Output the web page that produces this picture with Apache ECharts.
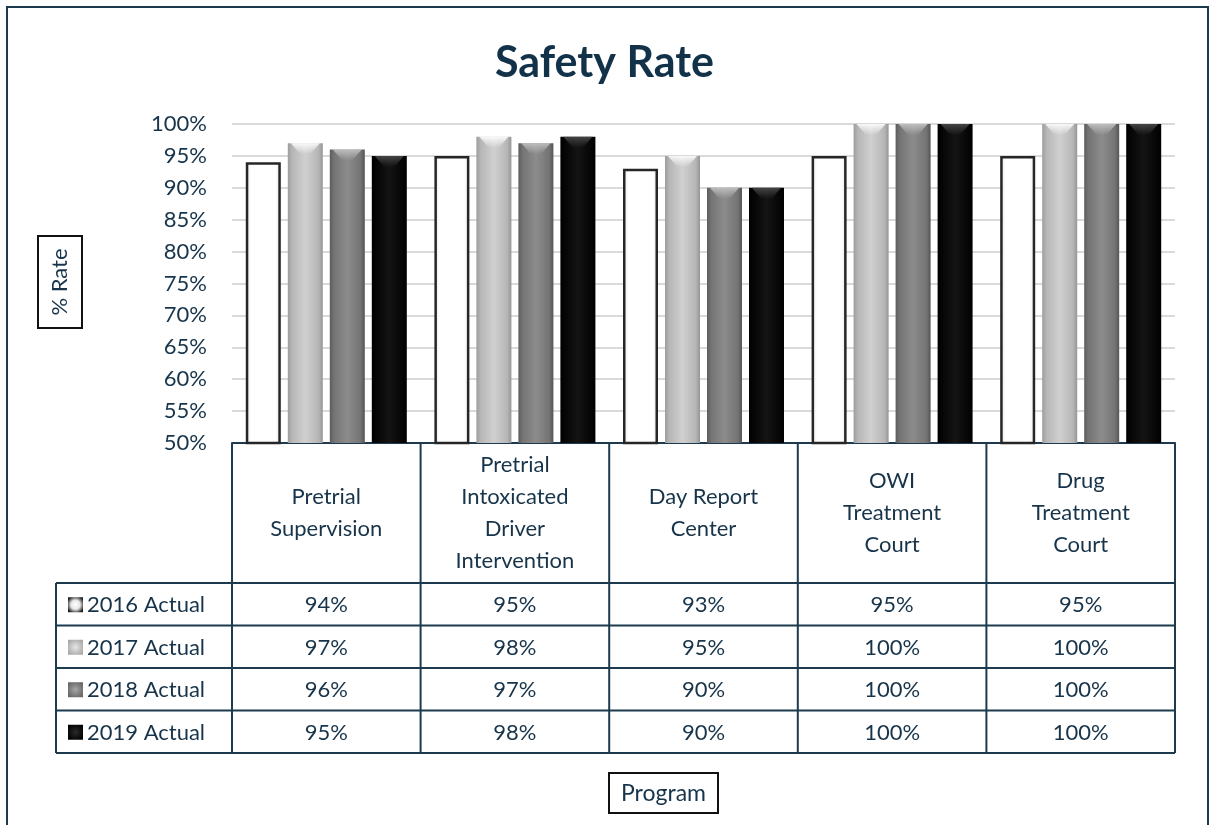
<!DOCTYPE html>
<html>
<head>
<meta charset="utf-8">
<title>Safety Rate</title>
<style>
  html, body { margin: 0; padding: 0; background: #ffffff; }
  #chart { width: 1209px; height: 825px; }
</style>
<script src="https://cdn.jsdelivr.net/npm/echarts@6/dist/echarts.min.js"></script>
</head>
<body>
<div id="chart"></div>
<script>
// ---- data ----
const programs = [
  'Pretrial\nSupervision',
  'Pretrial\nIntoxicated\nDriver\nIntervention',
  'Day Report\nCenter',
  'OWI\nTreatment\nCourt',
  'Drug\nTreatment\nCourt'
];
const seriesNames = ['2016 Actual', '2017 Actual', '2018 Actual', '2019 Actual'];
const actual2016 = [94, 95, 93, 95, 95];
const actual2017 = [97, 98, 95, 100, 100];
const actual2018 = [96, 97, 90, 100, 100];
const actual2019 = [95, 98, 90, 100, 100];
const yMin = 50, yMax = 100, yStep = 5;

// ---- styling ----
const INK = '#17344a';
const LINE = '#1d3a4e';
const FONT = 'Lato, "Open Sans", sans-serif';
const GRID = { left: 232, right: 34, top: 124, bottom: 382 };
const HEADER_H = 140;      // category row height in the data table
const ROW_H = 42.5;        // value row height
const KEY_LEFT = 56;       // left edge of the legend column
const BAR_W = 35;
const BAR_GAP = 7;

const hGrad = (stops) => new echarts.graphic.LinearGradient(0, 0, 1, 0,
  stops.map(([o, c]) => ({ offset: o, color: c })));

const barStyles = [
  { color: hGrad([[0, '#e6e6e6'], [0.15, '#ffffff'], [0.85, '#ffffff'], [1, '#e6e6e6']]), borderColor: '#262626', borderWidth: 2.5 },
  { color: hGrad([[0, '#9c9c9c'], [0.12, '#b6b6b6'], [0.5, '#d0d0d0'], [0.88, '#b6b6b6'], [1, '#959595']]) },
  { color: hGrad([[0, '#5c5c5c'], [0.12, '#747474'], [0.5, '#8c8c8c'], [0.88, '#747474'], [1, '#555555']]) },
  { color: hGrad([[0, '#000000'], [0.5, '#141414'], [1, '#000000']]) }
];
// bevel highlight at the top of the shaded bars (none on the outlined 2016 bars)
const bevelColors = [null, '#ffffff', '#c4c4c4', '#4a4a4a'];

const keyFills = [
  new echarts.graphic.RadialGradient(0.5, 0.5, 0.6, [{ offset: 0, color: '#ffffff' }, { offset: 0.5, color: '#e8e8e8' }, { offset: 1, color: '#1a1a1a' }]),
  new echarts.graphic.RadialGradient(0.5, 0.5, 0.6, [{ offset: 0, color: '#e6e6e6' }, { offset: 1, color: '#a8a8a8' }]),
  new echarts.graphic.RadialGradient(0.5, 0.5, 0.6, [{ offset: 0, color: '#a6a6a6' }, { offset: 1, color: '#666666' }]),
  new echarts.graphic.RadialGradient(0.5, 0.5, 0.6, [{ offset: 0, color: '#2a2a2a' }, { offset: 1, color: '#000000' }])
];

const seriesData = [actual2016, actual2017, actual2018, actual2019];
const nSeries = seriesNames.length;

const chart = echarts.init(document.getElementById('chart'), null, { renderer: 'canvas' });

const barSeries = seriesNames.map((name, i) => ({
  name,
  type: 'bar',
  data: seriesData[i],
  barWidth: BAR_W,
  barGap: (BAR_GAP / BAR_W * 100) + '%',
  itemStyle: barStyles[i],
  z: 2
}));

const bevelSeries = seriesNames.map((name, k) => bevelColors[k] ? ({
  type: 'custom',
  name: name + ' bevel',
  data: seriesData[k].map((v, i) => [i, v]),
  encode: { x: 0, y: 1 },
  silent: true,
  z: 3,
  renderItem: (params, api) => {
    const top = api.coord([api.value(0), api.value(1)]);
    const offset = -((nSeries * BAR_W + (nSeries - 1) * BAR_GAP) / 2) + BAR_W / 2 + k * (BAR_W + BAR_GAP);
    const cx = top[0] + offset;
    const l = cx - BAR_W / 2, r = cx + BAR_W / 2, y = top[1];
    const c = bevelColors[k];
    return {
      type: 'polygon',
      shape: { points: [[l + 3, y], [r - 3, y], [cx + 5, y + 11], [cx - 5, y + 11]] },
      style: {
        fill: new echarts.graphic.LinearGradient(0, 0, 0, 1, [
          { offset: 0, color: c },
          { offset: 1, color: echarts.color.modifyAlpha(c, 0) }
        ]),
        opacity: 0.9
      }
    };
  }
}) : null).filter(Boolean);

chart.setOption({
  backgroundColor: '#ffffff',
  animation: false,
  title: {
    text: 'Safety Rate',
    left: 'center',
    top: 37,
    textStyle: { fontFamily: FONT, fontSize: 43, fontWeight: 'bold', color: '#12324a' }
  },
  grid: GRID,
  xAxis: {
    type: 'category',
    data: programs,
    axisLine: { show: true, lineStyle: { color: LINE, width: 2 } },
    axisTick: { show: false },
    axisLabel: {
      interval: 0,
      margin: HEADER_H / 2,
      verticalAlign: 'middle',
      fontFamily: FONT,
      fontSize: 22,
      lineHeight: 32,
      color: INK
    }
  },
  yAxis: {
    type: 'value',
    min: yMin,
    max: yMax,
    interval: yStep,
    axisLine: { show: false },
    axisTick: { show: false },
    axisLabel: { formatter: '{value}%', fontFamily: FONT, fontSize: 22, color: INK, margin: 25 },
    splitLine: { lineStyle: { color: '#d9d9d9', width: 2 } }
  },
  series: barSeries.concat(bevelSeries)
});

// ---- data table, axis-title boxes and outer frame ----
function buildTable() {
  const n = programs.length;
  const axisY = chart.convertToPixel({ yAxisIndex: 0 }, yMin);
  const x0 = GRID.left;
  const x1 = chart.getWidth() - GRID.right;
  const band = (x1 - x0) / n;
  const headerBottom = axisY + HEADER_H;
  const tableBottom = headerBottom + ROW_H * nSeries;
  const els = [];
  const line = (xa, ya, xb, yb) => els.push({
    type: 'line', silent: true, z: 10,
    shape: { x1: xa, y1: ya, x2: xb, y2: yb },
    style: { stroke: LINE, lineWidth: 2 }
  });

  // column boundaries
  for (let c = 0; c <= n; c++) line(x0 + c * band, axisY, x0 + c * band, tableBottom);
  line(KEY_LEFT, headerBottom, KEY_LEFT, tableBottom);
  // row boundaries
  for (let r = 0; r <= nSeries; r++) {
    const y = headerBottom + r * ROW_H;
    line(KEY_LEFT, y, x1, y);
  }

  seriesNames.forEach((name, r) => {
    const cy = headerBottom + (r + 0.5) * ROW_H;
    // legend key
    els.push({
      type: 'rect', silent: true, z: 10,
      shape: { x: 68, y: cy - 7, width: 15, height: 15 },
      style: { fill: keyFills[r] }
    });
    els.push({
      type: 'text', silent: true, z: 10,
      style: { x: 87, y: cy + 1, text: name, font: `22px ${FONT}`, fill: INK, align: 'left', verticalAlign: 'middle' }
    });
    // value cells
    seriesData[r].forEach((v, c) => {
      const cx = chart.convertToPixel({ xAxisIndex: 0 }, c);
      els.push({
        type: 'text', silent: true, z: 10,
        style: { x: cx, y: cy + 1, text: v + '%', font: `22px ${FONT}`, fill: INK, align: 'center', verticalAlign: 'middle' }
      });
    });
  });

  // y-axis title box
  els.push({
    type: 'rect', silent: true, z: 10,
    shape: { x: 38, y: 236, width: 44, height: 92 },
    style: { fill: '#ffffff', stroke: '#111111', lineWidth: 2 }
  });
  els.push({
    type: 'text', silent: true, z: 11,
    x: 60, y: 282, rotation: Math.PI / 2,
    style: { x: 0, y: 0, text: '% Rate', font: `22px ${FONT}`, fill: INK, align: 'center', verticalAlign: 'middle' }
  });
  // x-axis title box
  els.push({
    type: 'rect', silent: true, z: 10,
    shape: { x: 609, y: 773, width: 109, height: 40 },
    style: { fill: '#ffffff', stroke: '#111111', lineWidth: 2 }
  });
  els.push({
    type: 'text', silent: true, z: 11,
    style: { x: 663.5, y: 794, text: 'Program', font: `23px ${FONT}`, fill: INK, align: 'center', verticalAlign: 'middle' }
  });
  // outer frame
  els.push({
    type: 'rect', silent: true, z: 10,
    shape: { x: 7, y: 7, width: 1201, height: 840 },
    style: { fill: 'none', stroke: LINE, lineWidth: 2 }
  });

  chart.setOption({ graphic: { elements: els } });
}
buildTable();
</script>
</body>
</html>
